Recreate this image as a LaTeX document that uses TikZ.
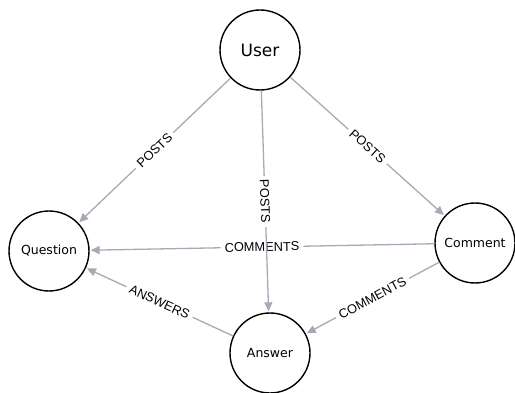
\documentclass[tikz,border=0pt]{standalone}
\usepackage{fontspec}
\setmainfont{DejaVu Sans}
\newfontfamily\relfont{Liberation Sans}
\usetikzlibrary{arrows.meta}
\definecolor{relgray}{HTML}{A5ABB6}

\begin{document}
\begin{tikzpicture}[x=1pt, y=-1pt,
    entity/.style={draw, circle, line width=1.4pt, minimum size=80pt, inner sep=0pt, font=\fontsize{12.5}{15}\selectfont},
    rel/.style={draw=relgray, line width=1.3pt, -{Triangle[length=9pt, width=8pt]}, shorten >=1pt},
    rellabel/.style={midway, sloped, fill=white, text=black, inner xsep=4pt, inner ysep=1pt, font=\relfont\fontsize{12.8}{14}\selectfont}]
    % Fix the page size
    \useasboundingbox (0,0) rectangle (515,393);

    % Entities
    \node[entity, font=\fontsize{17}{20}\selectfont] (user) at (260,50) {User};
    \node[entity] (question) at (49,251) {Question};
    \node[entity] (comment) at (475,243) {Comment};
    \node[entity] (answer) at (270,353) {Answer};

    % Relationships
    \draw[rel] (comment) -- (question) node[rellabel] {COMMENTS};
    \draw[rel] (user) -- (question) node[rellabel] {POSTS};
    \draw[rel] (user) -- (comment) node[rellabel] {POSTS};
    \draw[rel] (user) -- (answer) node[rellabel] {POSTS};
    \draw[rel] (comment) -- (answer) node[rellabel] {COMMENTS};
    \draw[rel] (answer) -- (question) node[rellabel] {ANSWERS};

\end{tikzpicture}
\end{document}
